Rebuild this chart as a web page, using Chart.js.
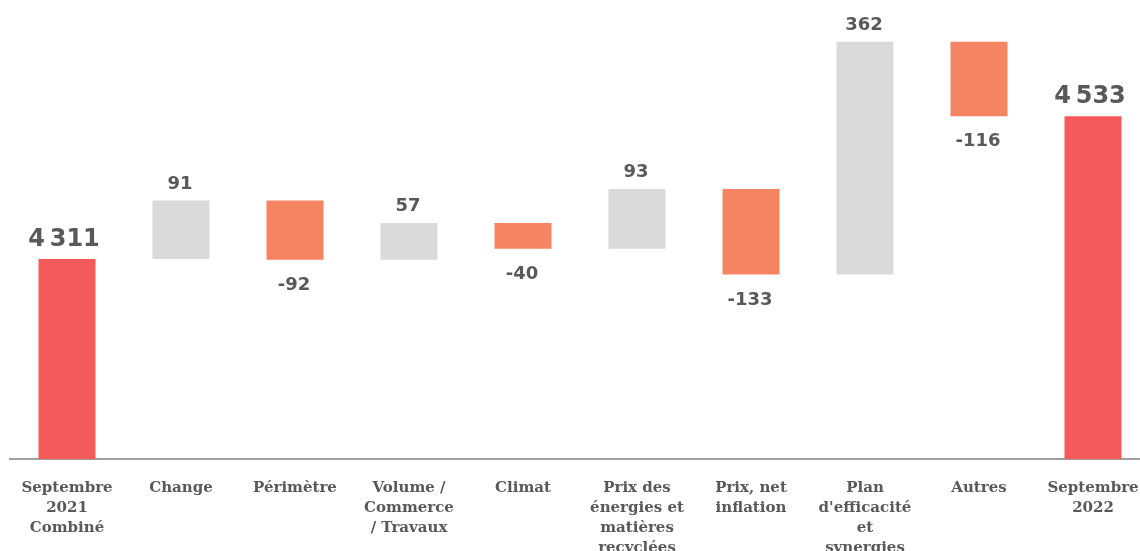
<!DOCTYPE html>
<html>
<head>
<meta charset="utf-8">
<script src="https://cdn.jsdelivr.net/npm/chart.js@4"></script>
<style>
  html, body { margin: 0; padding: 0; background: #fff; overflow: hidden; }
  #wrap { width: 1150px; height: 551px; position: relative; }
</style>
</head>
<body>
<div id="wrap"><canvas id="chart"></canvas></div>
<script>
const categories = [
  ["Septembre", "2021", "Combiné"],
  ["Change"],
  ["Périmètre"],
  ["Volume /", "Commerce", "/ Travaux"],
  ["Climat"],
  ["Prix des", "énergies et", "matières", "recyclées"],
  ["Prix, net", "inflation"],
  ["Plan", "d'efficacité", "et", "synergies"],
  ["Autres"],
  ["Septembre", "2022"]
];
const startTotal = 4311;
const deltas = [91, -92, 57, -40, 93, -133, 362, -116];
const endTotal = 4533;

const RED = "#f55a5a";
const ORANGE = "#f58462";
const GREY = "#dadada";
const TEXT = "#595959";

// build floating bars from the running total
let running = startTotal;
const ranges = [[4000, startTotal]];
const labels = [startTotal];
const colors = [RED];
for (const d of deltas) {
  ranges.push([running, running + d]);
  running += d;
  labels.push(d);
  colors.push(d >= 0 ? GREY : ORANGE);
}
ranges.push([4000, endTotal]);
labels.push(endTotal);
colors.push(RED);

function fmt(v) {
  return String(v).replace(/\B(?=(\d{3})+(?!\d))/g, "\u2009");
}

const barLabels = {
  id: "barLabels",
  afterDatasetsDraw(chart) {
    const ctx = chart.ctx;
    const meta = chart.getDatasetMeta(0);
    ctx.save();
    ctx.fillStyle = TEXT;
    ctx.textAlign = "center";
    ctx.textBaseline = "alphabetic";
    meta.data.forEach((bar, i) => {
      const isTotal = i === 0 || i === meta.data.length - 1;
      const top = Math.min(bar.y, bar.base);
      const bottom = Math.max(bar.y, bar.base);
      if (isTotal) {
        ctx.font = "bold 24px 'DejaVu Sans'";
        ctx.fillText(fmt(labels[i]), bar.x - 3, top - 13);
      } else if (labels[i] >= 0) {
        ctx.font = "bold 18px 'DejaVu Sans'";
        ctx.fillText(fmt(labels[i]), bar.x - 1, top - 12);
      } else {
        ctx.font = "bold 18px 'DejaVu Sans'";
        ctx.fillText(String(labels[i]), bar.x - 1, bottom + 30);
      }
    });
    ctx.restore();
  }
};

new Chart(document.getElementById("chart"), {
  type: "bar",
  data: {
    labels: categories,
    datasets: [{
      data: ranges,
      backgroundColor: colors,
      borderWidth: 0,
      categoryPercentage: 1,
      barPercentage: 0.5
    }]
  },
  options: {
    responsive: true,
    maintainAspectRatio: false,
    animation: false,
    layout: { padding: { top: 9, left: 10, right: 0, bottom: 0 } },
    plugins: {
      legend: { display: false },
      tooltip: { enabled: false }
    },
    scales: {
      x: {
        grid: { display: false },
        border: { color: "#a0a0a0", width: 2 },
        ticks: {
          color: TEXT,
          font: { family: "'DejaVu Serif', serif", weight: "bold", size: 15, lineHeight: 1.333 },
          padding: 11,
          maxRotation: 0,
          autoSkip: false
        },
        afterFit(scale) { scale.height = 92; }
      },
      y: {
        display: false,
        min: 4000,
        max: 4700
      }
    }
  },
  plugins: [barLabels]
});
</script>
</body>
</html>
